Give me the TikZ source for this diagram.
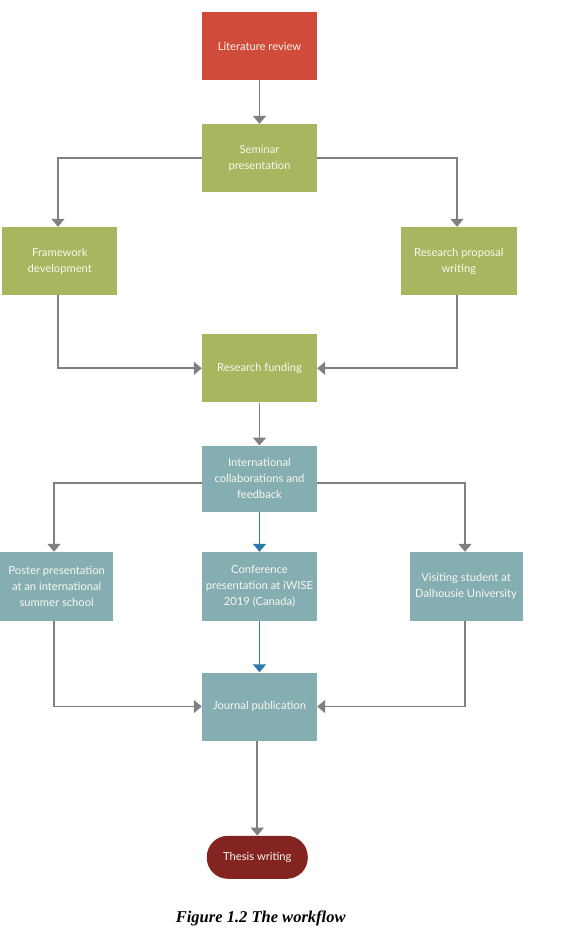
\documentclass[tikz,border=0pt]{standalone}
\usepackage{fontspec}
\setmainfont{Lato}
\newfontfamily\captionfont{Liberation Serif}
\usetikzlibrary{arrows.meta}
\definecolor{litred}{HTML}{D04B3A}
\definecolor{stepgreen}{HTML}{A6B760}
\definecolor{stepteal}{HTML}{85AEB2}
\definecolor{thesisred}{HTML}{842420}
\definecolor{linkgray}{HTML}{808080}
\definecolor{linkblue}{HTML}{2E78AA}
\definecolor{boxtext}{HTML}{FAF7EE}
\begin{document}
\begin{tikzpicture}[x=1pt,y=-1pt,
  stepbox/.style={rectangle, minimum width=115pt, minimum height=68pt,
    inner sep=1pt, align=center, text=boxtext,
    font=\fontsize{11.2}{16}\selectfont},
  greenbox/.style={stepbox, fill=stepgreen},
  tealbox/.style={stepbox, fill=stepteal},
  link/.style={draw=linkgray, line width=1.8pt,
    -{Triangle[width=13pt,length=8pt]}},
  bluelink/.style={link, draw=linkblue}]
\useasboundingbox (0,0) rectangle (562,934);

% top chain
\node[stepbox, fill=litred] (lit) at (259.5,46) {Literature review};
\node[greenbox] (sem) at (259.5,158) {Seminar\\presentation};
\node[greenbox] (fw) at (59.8,261) {Framework\\development};
\node[greenbox, minimum width=116pt] (rp) at (458.8,261) {Research proposal\\writing};
\node[greenbox] (fund) at (259.5,368.3) {Research funding};

% collaboration level
\node[tealbox, minimum height=66pt] (intl) at (259.5,478.7) {International\\collaborations and\\feedback};
\node[tealbox, minimum width=113pt, minimum height=69pt] (poster) at (56.7,586.5) {Poster presentation\\at an international\\summer school};
\node[tealbox, minimum height=69pt] (conf) at (259.5,586.5) {Conference\\presentation at iWISE\\2019 (Canada)};
\node[tealbox, minimum width=113pt, minimum height=69pt] (visit) at (466,586.5) {Visiting student at\\Dalhousie University};
\node[tealbox] (journal) at (259.5,706.5) {Journal publication};

% final step
\node[rectangle, rounded corners=21pt, fill=thesisred, minimum width=101pt,
  minimum height=43pt, text=boxtext, font=\fontsize{11.2}{16}\selectfont]
  (thesis) at (257.3,857.3) {Thesis writing};

\node[font=\captionfont\bfseries\itshape\fontsize{16.5}{19}\selectfont]
  (cap) at (260.7,918) {Figure 1.2 The workflow};

% connectors
\draw[link] (lit) -- (sem);
\draw[link] (sem.west) -| ([xshift=-1.8pt]fw.north);
\draw[link] (sem.east) -| ([xshift=-1.8pt]rp.north);
\draw[link] ([xshift=-1.8pt]fw.south) |- (fund.west);
\draw[link] ([xshift=-1.8pt]rp.south) |- (fund.east);
\draw[link] (fund) -- (intl);
\draw[link] ([yshift=-4.6pt]intl.west) -| ([xshift=-2.7pt]poster.north);
\draw[link] ([yshift=-4.6pt]intl.east) -| ([xshift=-1pt]visit.north);
\draw[bluelink] (intl) -- (conf);
\draw[bluelink] (conf) -- (journal);
\draw[link] ([xshift=-2.7pt]poster.south) |- (journal.west);
\draw[link] ([xshift=-1pt]visit.south) |- (journal.east);
\draw[link] (journal.south -| thesis.north) -- (thesis.north);
\end{tikzpicture}
\end{document}
